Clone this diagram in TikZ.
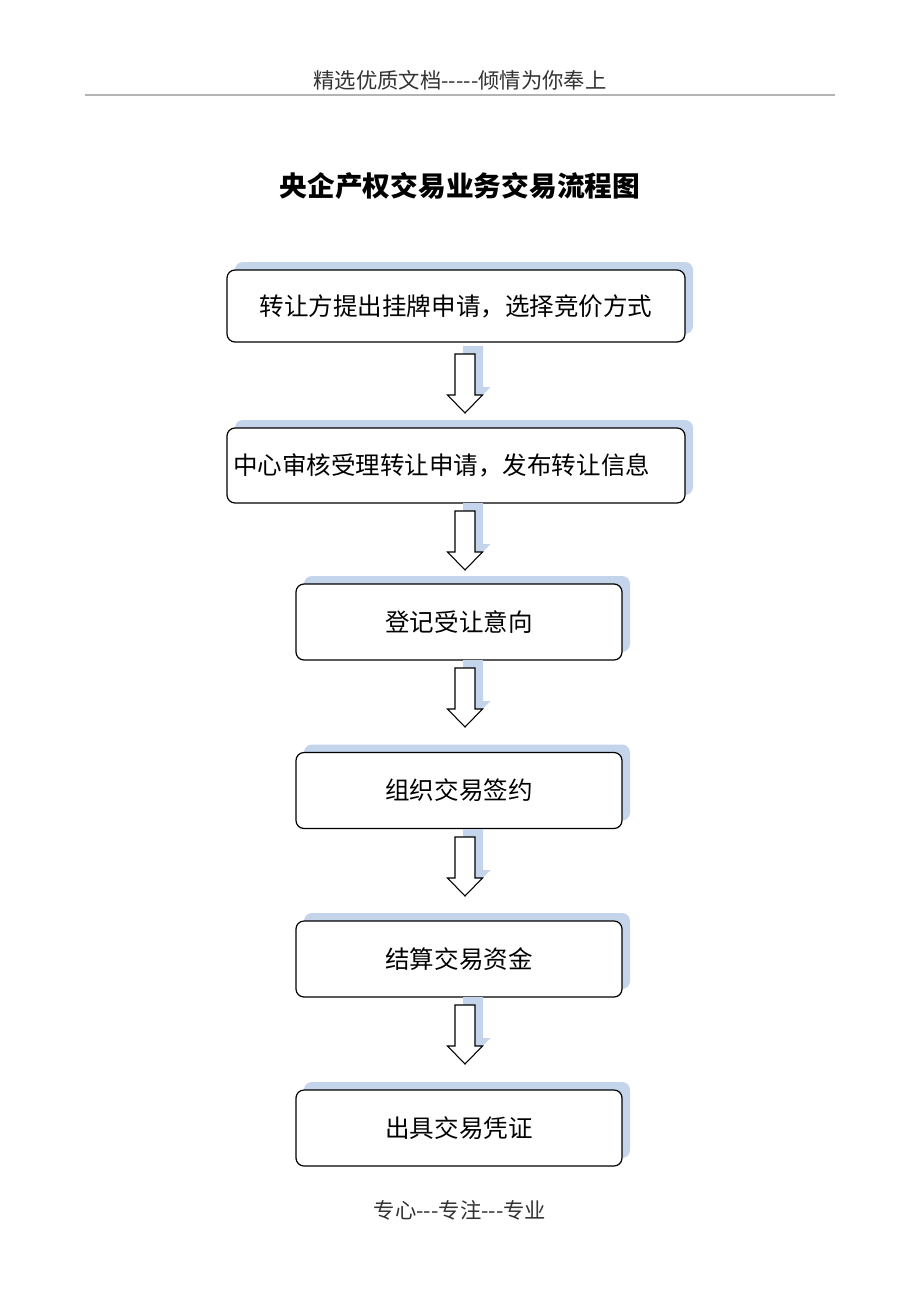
\documentclass[tikz,border=0pt]{standalone}
\usepackage{fontspec}
\setmainfont{Noto Sans CJK SC}
\usetikzlibrary{shadows}
\definecolor{shadowblue}{HTML}{C4D4EB}
\definecolor{rulegray}{HTML}{B4B4B4}
\tikzset{
  stepbox/.style={draw=black, line width=0.9pt, fill=white, rounded corners=6pt,
    general shadow={fill=shadowblue, shadow xshift=6pt, shadow yshift=6pt},
    font=\fontsize{18.4}{22}\selectfont, inner sep=0pt},
  harrow/.pic={
    \fill[shadowblue] (8,-8) +(-10,0) -- +(10,0) -- +(10,41) -- +(17.5,41) -- +(0,59) -- +(-17.5,41) -- +(-10,41) -- cycle;
    \draw[line width=0.8pt, fill=white, line join=miter] (0,0) +(-10,0) -- +(10,0) -- +(10,41) -- +(17.5,41) -- +(0,59) -- +(-17.5,41) -- +(-10,41) -- cycle;
  }
}
\begin{document}
\begin{tikzpicture}[x=0.75pt, y=-0.75pt]
\useasboundingbox[fill=white] (0,0) rectangle (920,1302);
% header
\node[font=\fontsize{16}{18}\selectfont, text=black!80] (hdr) at (460,80) {精选优质文档{-}{-}{-}{-}{-}倾情为你奉上};
\draw[rulegray, line width=0.9pt] (85,95) coordinate (rl) -- (835,95) coordinate (rr);
% title
\node[font=\fontsize{20.8}{24}\selectfont\bfseries] (title) at (460,186) {央企产权交易业务交易流程图};
% boxes
\node[stepbox, minimum width=343.5pt, minimum height=54pt] (b1) at (456,306) {转让方提出挂牌申请，选择竞价方式};
\node[stepbox, minimum width=343.5pt, minimum height=56.25pt, text width=334.5pt, align=left, inner xsep=4.5pt] (b2) at (456,465.5) {中心审核受理转让申请，发布转让信息};
\node[stepbox, minimum width=244.5pt, minimum height=57pt] (b3) at (459,622) {登记受让意向};
\node[stepbox, minimum width=244.5pt, minimum height=57pt] (b4) at (459,790.5) {组织交易签约};
\node[stepbox, minimum width=244.5pt, minimum height=57pt] (b5) at (459,959) {结算交易资金};
\node[stepbox, minimum width=244.5pt, minimum height=57pt] (b6) at (459,1128) {出具交易凭证};
% arrows
\coordinate (a1) at (465,354);
\coordinate (a2) at (465,511);
\coordinate (a3) at (465,668);
\coordinate (a4) at (465,837);
\coordinate (a5) at (465,1005);
\pic at (a1) {harrow};
\pic at (a2) {harrow};
\pic at (a3) {harrow};
\pic at (a4) {harrow};
\pic at (a5) {harrow};
% footer
\node[font=\fontsize{16}{18}\selectfont, text=black!80] (ftr) at (460,1210) {专心{-}{-}{-}专注{-}{-}{-}专业};
\end{tikzpicture}
\end{document}
